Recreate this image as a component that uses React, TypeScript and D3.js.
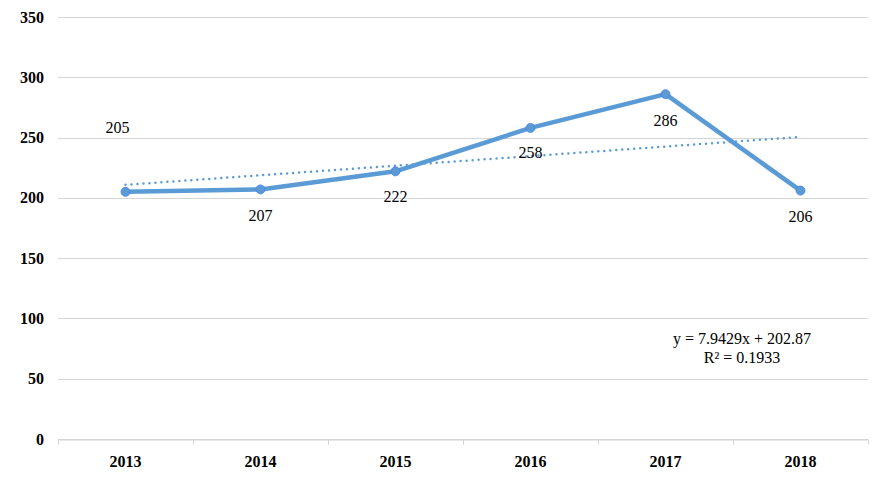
import React, { useRef, useEffect } from "react";
import * as d3 from "d3";

const years = ["2013", "2014", "2015", "2016", "2017", "2018"];
const values = [205, 207, 222, 258, 286, 206];
// trendline ends (first and last category)
const trendEnds = [210.8, 250.5];
const yTicks = [0, 50, 100, 150, 200, 250, 300, 350];
const equationLines = ["y = 7.9429x + 202.87", "R² = 0.1933"];
// where each data label sits relative to its point (px)
const labelDx = [-8, 0, 0, 0, 0, 0];
const labelDy = [-64, 26, 25, 24, 26, 26];

const W = 881;
const H = 497;
const BLUE = "#5b9bd5";
const FONT = "'Liberation Serif', 'Times New Roman', serif";

export default function App() {
  const ref = useRef<SVGSVGElement>(null);

  useEffect(() => {
    if (!ref.current) return;
    const svg = d3.select(ref.current);
    svg.selectAll("*").remove();

    const margin = { top: 17, right: 13, bottom: 58, left: 58 };
    const innerW = W - margin.left - margin.right;
    const innerH = H - margin.top - margin.bottom;

    const x = d3.scaleBand<string>().domain(years).range([0, innerW]);
    const y = d3.scaleLinear().domain([0, 350]).range([innerH, 0]);
    const cx = (d: string) => (x(d) || 0) + x.bandwidth() / 2;

    const g = svg.append("g").attr("transform", `translate(${margin.left},${margin.top})`);

    // gridlines
    g.selectAll("line.grid")
      .data(yTicks)
      .enter()
      .append("line")
      .attr("class", "grid")
      .attr("x1", 0)
      .attr("x2", innerW)
      .attr("y1", (d) => Math.round(y(d)) + 0.5)
      .attr("y2", (d) => Math.round(y(d)) + 0.5)
      .attr("stroke", "#d4d4d4")
      .attr("stroke-width", 1);

    // y labels
    g.selectAll("text.ylab")
      .data(yTicks)
      .enter()
      .append("text")
      .attr("class", "ylab")
      .attr("x", -14)
      .attr("y", (d) => y(d))
      .attr("dy", "0.35em")
      .attr("text-anchor", "end")
      .attr("font-family", FONT)
      .attr("font-weight", "bold")
      .attr("font-size", 16)
      .attr("fill", "#000")
      .text((d) => d);

    // bottom axis
    const xAxis = g
      .append("g")
      .attr("transform", `translate(0,${Math.round(innerH) + 0.5})`)
      .call(d3.axisBottom(x).tickSize(0).tickPadding(16));
    xAxis.select(".domain").attr("stroke", "#d4d4d4");
    xAxis
      .selectAll("text")
      .attr("font-family", FONT)
      .attr("font-weight", "bold")
      .attr("font-size", 16)
      .attr("fill", "#000");
    const bounds = [...years.map((d) => x(d) || 0), innerW];
    xAxis
      .selectAll("line.sep")
      .data(bounds)
      .enter()
      .append("line")
      .attr("class", "sep")
      .attr("x1", (d) => Math.round(d) + 0.5)
      .attr("x2", (d) => Math.round(d) + 0.5)
      .attr("y1", 0)
      .attr("y2", 5)
      .attr("stroke", "#d4d4d4");

    // trendline
    g.append("line")
      .attr("x1", cx(years[0]))
      .attr("x2", cx(years[years.length - 1]))
      .attr("y1", y(trendEnds[0]))
      .attr("y2", y(trendEnds[1]))
      .attr("stroke", BLUE)
      .attr("stroke-width", 2.5)
      .attr("stroke-dasharray", "0 6")
      .attr("stroke-linecap", "round");

    const data = years.map((d, i) => ({ year: d, value: values[i] }));
    const line = d3
      .line<{ year: string; value: number }>()
      .x((d) => cx(d.year))
      .y((d) => y(d.value));

    g.append("path")
      .datum(data)
      .attr("d", line)
      .attr("fill", "none")
      .attr("stroke", BLUE)
      .attr("stroke-width", 4.5)
      .attr("stroke-linejoin", "round");

    g.selectAll("circle")
      .data(data)
      .enter()
      .append("circle")
      .attr("cx", (d) => cx(d.year))
      .attr("cy", (d) => y(d.value))
      .attr("r", 4.5)
      .attr("fill", BLUE)
      .attr("stroke", "#4a7ee8")
      .attr("stroke-width", 0.8);

    g.selectAll("text.lab")
      .data(data)
      .enter()
      .append("text")
      .attr("class", "lab")
      .attr("x", (d, i) => cx(d.year) + labelDx[i])
      .attr("y", (d, i) => y(d.value) + labelDy[i])
      .attr("dy", "0.35em")
      .attr("text-anchor", "middle")
      .attr("font-family", FONT)
      .attr("font-size", 16)
      .attr("fill", "#000")
      .text((d) => d.value);

    // equation
    g.selectAll("text.eq")
      .data(equationLines)
      .enter()
      .append("text")
      .attr("class", "eq")
      .attr("x", 742 - margin.left)
      .attr("y", (d, i) => 338 - margin.top + i * 19)
      .attr("dy", "0.35em")
      .attr("text-anchor", "middle")
      .attr("font-family", FONT)
      .attr("font-size", 16)
      .attr("fill", "#000")
      .text((d) => d);
  }, []);

  return (
    <svg
      ref={ref}
      width={W}
      height={H}
      style={{ position: "absolute", left: 0, top: 0, background: "#fff" }}
    ></svg>
  );
}
